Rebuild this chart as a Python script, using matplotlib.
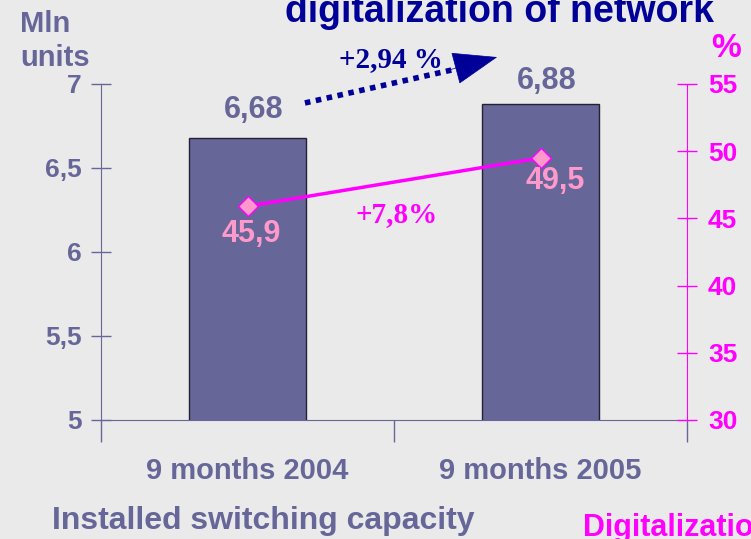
import numpy as np
import matplotlib.pyplot as plt

categories = ["9 months 2004", "9 months 2005"]
capacity = [6.68, 6.88]
capacity_labels = ["6,68", "6,88"]
digital = [45.9, 49.5]
digital_labels = ["45,9", "49,5"]
left_ticks = [5, 5.5, 6, 6.5, 7]
left_tick_labels = ["5", "5,5", "6", "6,5", "7"]
right_ticks = [30, 35, 40, 45, 50, 55]

bg = "#EAEAEA"
bar_col = "#666699"
magenta = "#FF00FF"
pink = "#FF99CC"
navy = "#000099"

plt.rcParams['font.family'] = ['Liberation Sans', 'DejaVu Sans']

def main():
    fig = plt.figure(figsize=(7.51, 5.39), dpi=100, facecolor=bg)
    ax = fig.add_axes([0.1345, 0.2208, 0.7803, 0.6234], facecolor=bg)
    x = np.arange(len(categories))

    ax.bar(x, capacity, width=0.4, color=bar_col, edgecolor="#222233", linewidth=1, zorder=2)
    ax.set_xlim(-0.5, 1.5)
    ax.set_ylim(5, 7)
    ax.set_yticks(left_ticks)
    ax.set_yticklabels(left_tick_labels)
    ax.tick_params(axis='y', direction='inout', length=14, width=1, color=bar_col,
                   labelcolor=bar_col, labelsize=19, pad=7)
    for t in ax.get_yticklabels():
        t.set_fontweight('bold')
    ax.set_xticks(x)
    ax.set_xticklabels(categories, fontsize=21, fontweight='bold', color=bar_col)
    ax.set_xticks([-0.5, 0.5, 1.5], minor=True)
    ax.tick_params(axis='x', which='major', length=0, pad=27)
    ax.tick_params(axis='x', which='minor', direction='out', length=16, width=1, color=bar_col)
    for s in ['top', 'right']:
        ax.spines[s].set_visible(False)
    ax.spines['left'].set_color(bar_col)
    ax.spines['bottom'].set_color(bar_col)

    cap_off = [0.165, 0.14]
    for xi, v, lab, off in zip(x, capacity, capacity_labels, cap_off):
        ax.text(xi + 0.02, v + off, lab, ha='center', va='center', fontsize=22,
                fontweight='bold', color=bar_col)

    # dotted growth arrow: dotted shaft + solid head
    ax.plot([0.196, 0.74], [6.887, 7.10], color=navy, linewidth=4,
            linestyle=(0, (1, 1)), dash_capstyle='butt', clip_on=False)
    ax.annotate("", xy=(0.852, 7.16), xytext=(0.68, 7.08), annotation_clip=False,
                arrowprops=dict(arrowstyle="-|>,head_length=3.0,head_width=1.1", color=navy,
                                linewidth=0.5, shrinkA=0, shrinkB=0))
    ax.text(0.49, 7.145, "+2,94 %", ha='center', va='center', fontsize=21, fontweight='bold',
            color=navy, family='Liberation Serif', clip_on=False)

    ax2 = ax.twinx()
    ax2.set_ylim(30, 55)
    ax2.set_yticks(right_ticks)
    ax2.plot(x, digital, color=magenta, linewidth=2.5, marker='D', markersize=10,
             markerfacecolor=pink, markeredgecolor=magenta, markeredgewidth=1, zorder=3)
    ax2.tick_params(axis='y', direction='inout', length=14, width=1, color=magenta,
                    labelcolor=magenta, labelsize=19, pad=8)
    for t in ax2.get_yticklabels():
        t.set_fontweight('bold')
    for s in ['top', 'left', 'bottom']:
        ax2.spines[s].set_visible(False)
    ax2.spines['right'].set_color(magenta)

    dx = [0.012, 0.05]
    dy = [-2.06, -1.72]
    for xi, v, lab, ox, oy in zip(x, digital, digital_labels, dx, dy):
        ax2.text(xi + ox, v + oy, lab, ha='center', va='center', fontsize=22,
                 fontweight='bold', color=pink)
    ax2.text(0.51, 45.25, "+7,8%", ha='center', va='center', fontsize=21, fontweight='bold',
             color=magenta, family='Liberation Serif')

    fig.text(285 / 751, 1 - 22 / 539, "digitalization of network", ha='left', va='baseline',
             fontsize=27, fontweight='bold', color=navy)
    fig.text(20 / 751, 1 - 32 / 539, "Mln", ha='left', va='baseline', fontsize=21,
             fontweight='bold', color=bar_col)
    fig.text(20 / 751, 1 - 66 / 539, "units", ha='left', va='baseline', fontsize=21,
             fontweight='bold', color=bar_col)
    fig.text(711 / 751, 1 - 57 / 539, "%", ha='left', va='baseline', fontsize=24,
             fontweight='bold', color=magenta)
    fig.text(52 / 751, 1 - 529 / 539, "Installed switching capacity", ha='left', va='baseline',
             fontsize=23, fontweight='bold', color=bar_col)
    fig.text(583 / 751, 1 - 536 / 539, "Digitalization", ha='left', va='baseline',
             fontsize=22, fontweight='bold', color=magenta)

    fig.savefig("out.png", dpi=100, facecolor=bg)


if __name__ == "__main__":
    main()
